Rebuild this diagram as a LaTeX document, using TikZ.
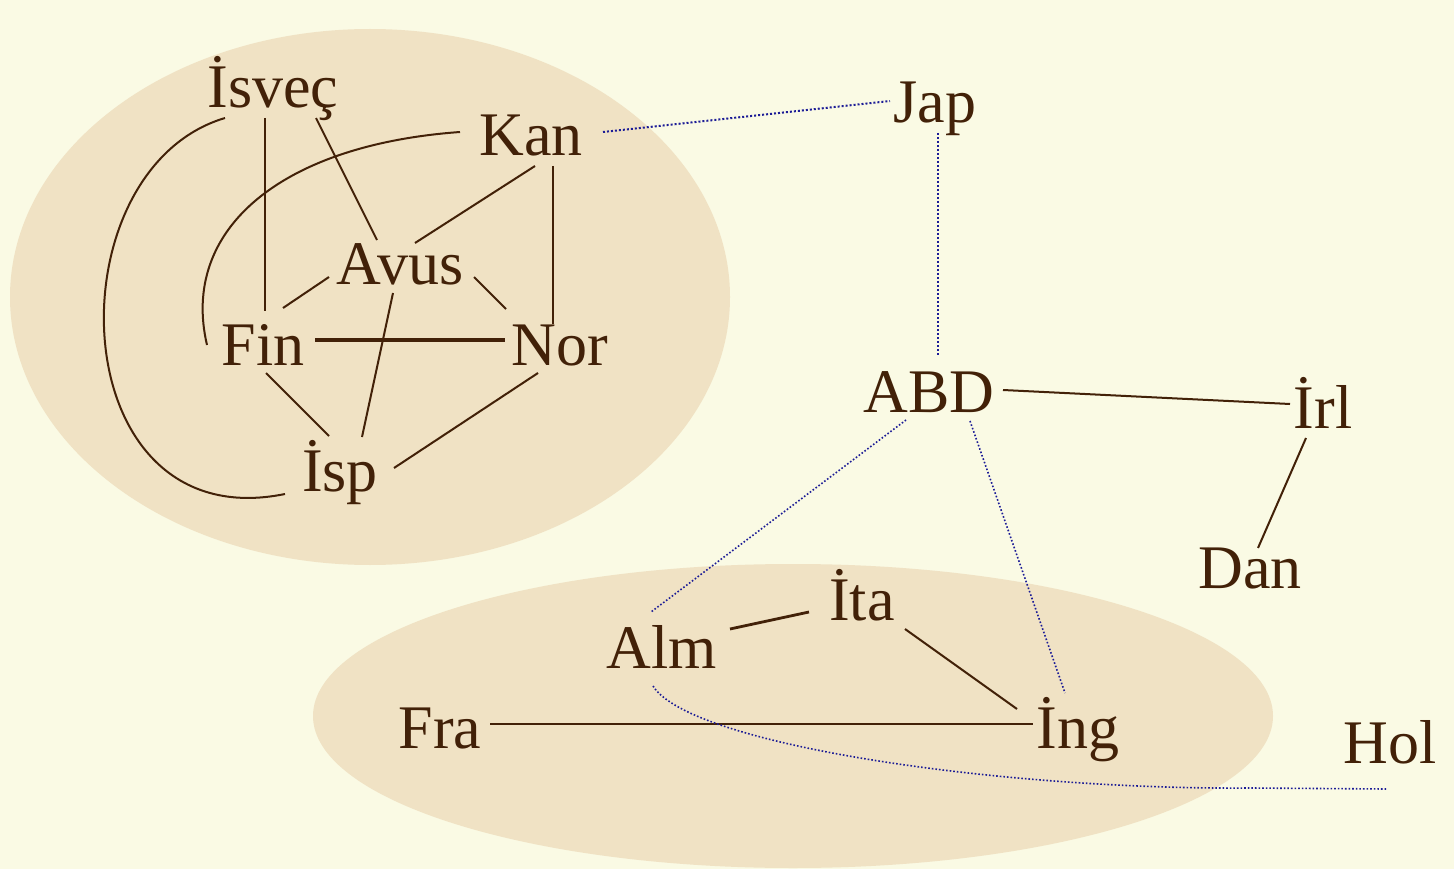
\documentclass[tikz,border=0pt]{standalone}
\usepackage{fontspec}
\setmainfont{Liberation Serif}
\definecolor{bgc}{RGB}{250,250,228}
\definecolor{ellc}{RGB}{240,226,196}
\definecolor{txt}{RGB}{66,33,8}
\definecolor{dotc}{RGB}{28,28,150}
\begin{document}
\begin{tikzpicture}[x=1pt,y=-1pt,
  lbl/.style={text=txt, font=\fontsize{62}{62}\selectfont, inner sep=0pt, anchor=base},
  edge/.style={draw=txt, line width=2pt},
  heavy/.style={draw=txt, line width=3.5pt},
  midedge/.style={draw=txt, line width=2.8pt},
  dotedge/.style={draw=dotc, line width=2pt, dotted},
  fineedge/.style={draw=dotc, line width=1.6pt, dotted}]
\fill[bgc] (0,0) rectangle (1454,869);
\useasboundingbox (0,0) rectangle (1454,869);
\fill[ellc] (370,297) ellipse [x radius=360, y radius=268];
\fill[ellc] (793,716) ellipse [x radius=480, y radius=152];

\node[lbl] (isvec) at (273,108) {İsveç};
\node[lbl] (kan) at (531,156) {Kan};
\node[lbl] (jap) at (935,123) {Jap};
\node[lbl] (avus) at (400,284) {Avus};
\node[lbl] (fin) at (263,365) {Fin};
\node[lbl] (nor) at (560,365) {Nor};
\node[lbl] (isp) at (340,491) {İsp};
\node[lbl] (abd) at (929,412) {ABD};
\node[lbl] (irl) at (1323,428) {İrl};
\node[lbl] (dan) at (1250,588) {Dan};
\node[lbl] (ita) at (862,620) {İta};
\node[lbl] (alm) at (662,668) {Alm};
\node[lbl] (fra) at (440,748) {Fra};
\node[lbl] (ing) at (1078,748) {İng};
\node[lbl] (hol) at (1390,763) {Hol};

% left group
\draw[midedge] ([shift={(-8,10)}]isvec.base) -- ([shift={(2,-54)}]fin.base);
\draw[edge] ([shift={(43,10)}]isvec.base) -- ([shift={(-23,-44)}]avus.base);
\draw[edge] ([shift={(-48,10)}]isvec.base) .. controls (50,170) and (60,540) .. ([shift={(-55,3)}]isp.base);
\draw[edge] ([shift={(-71,-24)}]kan.base) .. controls (280,145) and (180,230) .. ([shift={(-56,-20)}]fin.base);
\draw[edge] ([shift={(4,10)}]kan.base) -- ([shift={(15,-41)}]avus.base);
\draw[edge] ([shift={(22,10)}]kan.base) -- ([shift={(-7,-41)}]nor.base);
\draw[edge] ([shift={(-71,-7)}]avus.base) -- ([shift={(20,-57)}]fin.base);
\draw[edge] ([shift={(74,-7)}]avus.base) -- ([shift={(-54,-56)}]nor.base);
\draw[edge] ([shift={(-7,9)}]avus.base) -- ([shift={(22,-54)}]isp.base);
\draw[heavy] ([shift={(52,-25)}]fin.base) -- ([shift={(-55,-25)}]nor.base);
\draw[edge] ([shift={(3,8)}]fin.base) -- ([shift={(-11,-55)}]isp.base);
\draw[edge] ([shift={(-22,8)}]nor.base) -- ([shift={(54,-23)}]isp.base);

% right group
\draw[edge] ([shift={(74,-22)}]abd.base) -- ([shift={(-33,-24)}]irl.base);
\draw[edge] ([shift={(-17,10)}]irl.base) -- ([shift={(8,-40)}]dan.base);

% bottom group
\draw[midedge] ([shift={(68,-39)}]alm.base) -- ([shift={(-53,-8)}]ita.base);
\draw[edge] ([shift={(43,9)}]ita.base) -- ([shift={(-61,-39)}]ing.base);
\draw[midedge] ([shift={(50,-24)}]fra.base) -- ([shift={(-45,-24)}]ing.base);

% dotted links
\draw[dotedge] ([shift={(72,-24)}]kan.base) -- ([shift={(-45,-22)}]jap.base);
\draw[dotedge] ([shift={(3,10)}]jap.base) -- ([shift={(9,-56)}]abd.base);
\draw[fineedge] ([shift={(-23,8)}]abd.base) -- ([shift={(-11,-56)}]alm.base);
\draw[fineedge] ([shift={(41,9)}]abd.base) -- ([shift={(-13,-55)}]ing.base);
\draw[fineedge] ([shift={(-9,18)}]alm.base) .. controls (690,745) and (1000,790) .. (1250,788) -- ([shift={(-4,26)}]hol.base);
\end{tikzpicture}
\end{document}
